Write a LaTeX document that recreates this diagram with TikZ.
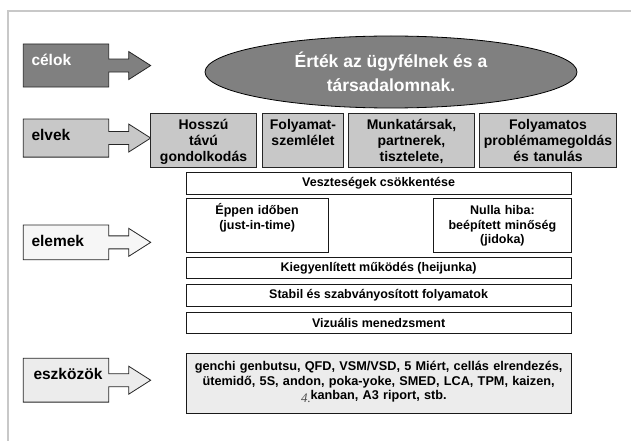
\documentclass[tikz,border=0pt]{standalone}
\usepackage{fontspec}
\setmainfont{Liberation Sans}
\newfontfamily\pagenumfont{Liberation Serif}
\definecolor{framegray}{RGB}{200,200,200}
\definecolor{goalgray}{RGB}{128,128,128}
\definecolor{principlegray}{RGB}{200,200,200}
\definecolor{elementgray}{RGB}{246,246,246}
\definecolor{toolgray}{RGB}{236,236,236}
\usetikzlibrary{positioning,shapes.geometric,calc,backgrounds}

\begin{document}
\begin{tikzpicture}[
  x=1pt,y=-1pt,
  every node/.style={font=\bfseries},
  lblbox/.style={anchor=north west,inner xsep=8pt,inner ysep=0pt,text width=69pt,
                 align=left,text height=21pt,font=\fontsize{15.5}{18}\selectfont\bfseries},
  lblshape/.style={draw=black!85,line width=0.8pt},
  prinbox/.style={draw=black!85,line width=1pt,fill=principlegray,anchor=north west,
                  inner xsep=1pt,inner ysep=0pt,align=center,text height=16.5pt,text depth=37.5pt,
                  font=\fontsize{14}{15.7}\selectfont\bfseries},
  elembox/.style={draw=black!90,line width=0.8pt,fill=white,anchor=north west,
                  inner xsep=0pt,inner ysep=0pt,align=center,
                  font=\fontsize{12.5}{14.3}\selectfont\bfseries},
]
  \useasboundingbox (0,0) rectangle (631,441);

  % Frame
  \draw[framegray,line width=2pt] (7.5,441) -- (7.5,11) -- (631,11);

  % Goal
  \node[lblbox,text=white,text depth=21.7pt] (celok) at (23.3,44) {célok};
  \node[ellipse,draw,line width=0.8pt,fill=goalgray,text=white,inner sep=0pt,
        minimum width=372pt,minimum height=72pt,align=center,
        font=\fontsize{17.5}{24}\selectfont\bfseries] (value) at (391,72)
        {Érték az ügyfélnek és a\\társadalomnak.};

  % Principles
  \node[lblbox,text depth=16.7pt] (elvek) at (23.3,119) {elvek};
  \node[prinbox,text width=104pt] (longterm) at (150,112.7) {Hosszú\\távú\\gondolkodás};
  \node[prinbox,text width=79pt] (process) at (262,112.7) {Folyamat-\\szemlélet};
  \node[prinbox,text width=124pt] (respect) at (348,112.7) {Munkatársak,\\partnerek,\\tisztelete,};
  \node[prinbox,text width=135pt] (learning) at (479,112.7) {Folyamatos\\problémamegoldás\\és tanulás};

  % Elements
  \node[lblbox,text depth=13.3pt] (elemek) at (23.3,225) {elemek};
  \node[elembox,minimum width=385pt,minimum height=21.5pt] (waste) at (185.7,172) {Veszteségek csökkentése};
  \node[elembox,text width=142pt,text height=16pt,text depth=37.4pt] (jit) at (185.7,198.3)
        {Éppen időben\\(just-in-time)};
  \node[elembox,text width=137.4pt,text height=16pt,text depth=37.4pt] (jidoka) at (433.3,198.3)
        {Nulla hiba:\\beépített minőség\\(jidoka)};
  \node[elembox,minimum width=385pt,minimum height=21.6pt] (heijunka) at (185.7,256.7)
        {Kiegyenlített működés (heijunka)};
  \node[elembox,minimum width=385pt,minimum height=21.7pt] (stable) at (185.7,284)
        {Stabil és szabványosított folyamatok};
  \node[elembox,minimum width=385pt,minimum height=21pt] (visual) at (185.7,311.7)
        {Vizuális menedzsment};

  % Tools
  \node[lblbox,text depth=22.4pt,inner xsep=10pt,text width=65pt] (eszkozok) at (23.3,358.3) {eszközök};
  \node[elembox,fill=toolgray,text width=385pt,text height=17pt,text depth=42.4pt,
        font=\fontsize{12.7}{14.6}\selectfont\bfseries] (tools) at (185.7,353.3)
        {genchi genbutsu, QFD, VSM/VSD, 5 Miért, cellás elrendezés,\\
         ütemidő, 5S, andon, poka-yoke, SMED, LCA, TPM, kaizen,\\
         kanban, A3 riport, stb.};
  \node[font=\pagenumfont\itshape\fontsize{13}{13}\selectfont,text=black!70,inner sep=0pt]
        (pagenum) at (306,398) {4.};

  % Label arrows
  \begin{scope}[on background layer]
    \fill[white] (0,0) rectangle (631,441);
    \draw[lblshape,fill=goalgray] (celok.north west) -- (celok.north east)
      -- ([yshift=6.5pt]celok.east) -- ++(20pt,0pt) -- ++(0pt,7.5pt) -- ([xshift=42pt]celok.east)
      -- ++(-22pt,-14pt) -- ++(0pt,7.5pt) -- ([yshift=-6.5pt]celok.east)
      -- (celok.south east) -- (celok.south west) -- cycle;
    \draw[lblshape,fill=principlegray] (elvek.north west) -- (elvek.north east)
      -- ([yshift=6.5pt]elvek.east) -- ++(20pt,0pt) -- ++(0pt,7.5pt) -- ([xshift=42pt]elvek.east)
      -- ++(-22pt,-14pt) -- ++(0pt,7.5pt) -- ([yshift=-6.5pt]elvek.east)
      -- (elvek.south east) -- (elvek.south west) -- cycle;
    \draw[lblshape,fill=elementgray] (elemek.north west) -- (elemek.north east)
      -- ([yshift=6.5pt]elemek.east) -- ++(20pt,0pt) -- ++(0pt,7.5pt) -- ([xshift=42pt]elemek.east)
      -- ++(-22pt,-14pt) -- ++(0pt,7.5pt) -- ([yshift=-6.5pt]elemek.east)
      -- (elemek.south east) -- (elemek.south west) -- cycle;
    \draw[lblshape,fill=toolgray] (eszkozok.north west) -- (eszkozok.north east)
      -- ([yshift=6.5pt]eszkozok.east) -- ++(20pt,0pt) -- ++(0pt,7.5pt) -- ([xshift=42pt]eszkozok.east)
      -- ++(-22pt,-14pt) -- ++(0pt,7.5pt) -- ([yshift=-6.5pt]eszkozok.east)
      -- (eszkozok.south east) -- (eszkozok.south west) -- cycle;
  \end{scope}
\end{tikzpicture}
\end{document}
